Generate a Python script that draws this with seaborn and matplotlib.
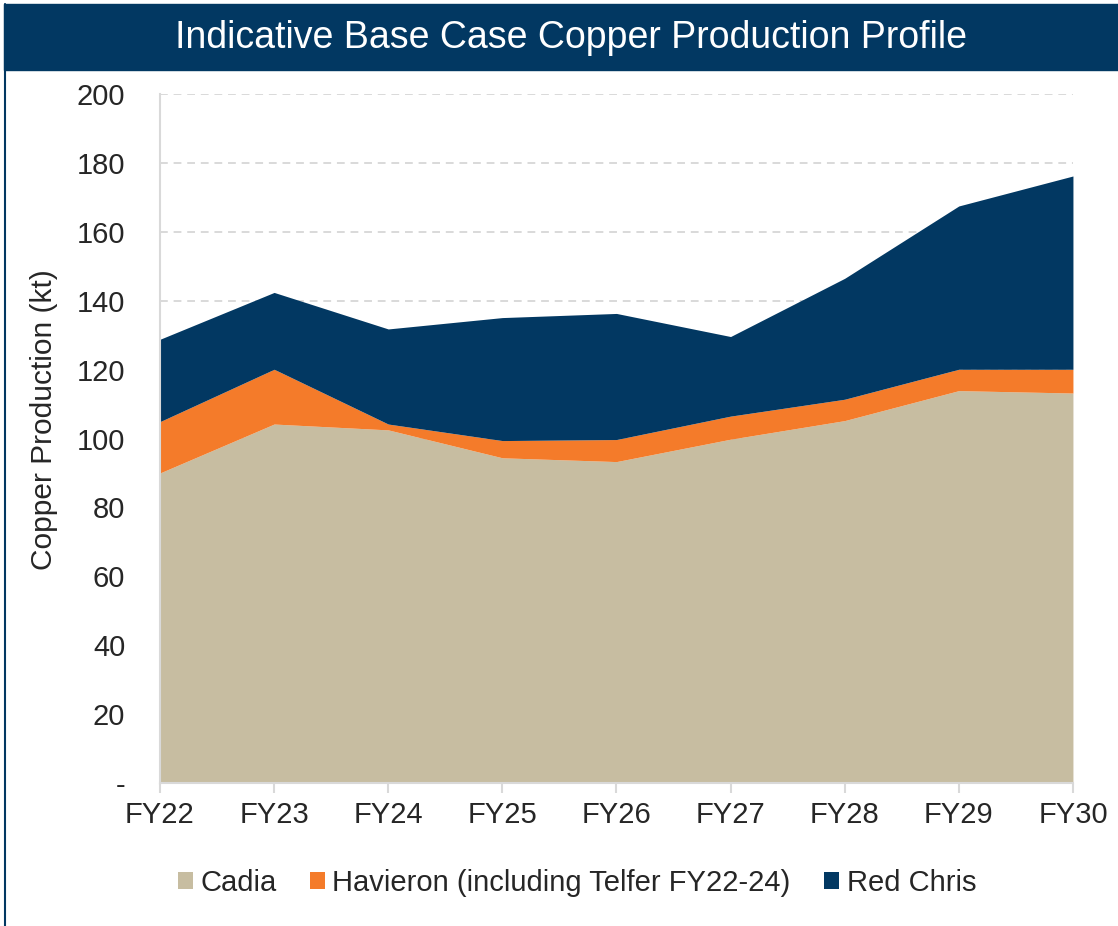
import matplotlib
matplotlib.use("Agg")
import matplotlib.pyplot as plt
from matplotlib.patches import Patch, Rectangle
from matplotlib.lines import Line2D
import numpy as np
import pandas as pd
import seaborn as sns

# data (kt)
years = ['FY22', 'FY23', 'FY24', 'FY25', 'FY26', 'FY27', 'FY28', 'FY29', 'FY30']
cadia = [90.0, 104.2, 102.5, 94.4, 93.3, 99.8, 105.2, 113.9, 113.2]
havieron = [14.9, 15.9, 1.7, 5.0, 6.4, 6.7, 6.2, 6.2, 6.9]
red_chris = [23.9, 22.3, 27.6, 35.7, 36.6, 23.1, 35.1, 47.4, 56.1]
series_names = ['Cadia', 'Havieron (including Telfer FY22-24)', 'Red Chris']
colors = ['#C7BDA1', '#F47B2A', '#023862']
navy = '#023862'

df = pd.DataFrame({'year': years, series_names[0]: cadia,
                   series_names[1]: havieron, series_names[2]: red_chris})

sns.set_theme(style='white')
plt.rcParams['font.family'] = ['Liberation Sans', 'DejaVu Sans']

fig = plt.figure(figsize=(11.18, 9.26), dpi=100)
ax = fig.add_axes([0.1431, 0.1544, 0.9597 - 0.1431, 0.8985 - 0.1544])

x = np.arange(len(years))
ax.stackplot(x, df[series_names[0]], df[series_names[1]], df[series_names[2]],
             colors=colors, linewidth=0, zorder=2)

ax.set_xlim(0, len(years) - 1)
ax.set_ylim(0, 200)
ax.set_yticks(range(0, 201, 20))
ax.set_yticklabels(['-'] + [str(v) for v in range(20, 201, 20)])
ax.set_xticks(x)
ax.set_xticklabels(years)
ax.yaxis.grid(True, linestyle=(0, (4, 3)), color='#d9d9d9', linewidth=1.4, zorder=0)
ax.xaxis.grid(False)
ax.set_axisbelow(True)

sns.despine(ax=ax, top=True, right=True)
for s in ['left', 'bottom']:
    ax.spines[s].set_color('#d9d9d9')
    ax.spines[s].set_linewidth(1.5)
    ax.spines[s].set_zorder(3)

ax.tick_params(axis='x', which='major', length=7, width=1.5, color='#d9d9d9',
               direction='out', bottom=True, labelsize=21, pad=6)
ax.tick_params(axis='y', length=0, labelsize=21, pad=25)
ax.set_ylabel('Copper Production (kt)', fontsize=21.5)
ax.yaxis.set_label_coords(-0.112, 0.527)

# title bar
fig.patches.append(Rectangle((4 / 1118, 1 - 70 / 926), 1.0, 66 / 926,
                             transform=fig.transFigure, color=navy, zorder=0))
fig.text(0.511, 1 - 38 / 926, 'Indicative Base Case Copper Production Profile',
         color='white', fontsize=27, ha='center', va='center')
fig.lines.append(Line2D([5 / 1118, 5 / 1118], [0, 1 - 4 / 926],
                        transform=fig.transFigure, color=navy, linewidth=1.5))

handles = [Patch(facecolor=c, edgecolor='none') for c in colors]
fig.legend(handles, series_names, loc='center', bbox_to_anchor=(0.516, 1 - 883 / 926),
           ncol=3, frameon=False, fontsize=21, handlelength=0.52, handleheight=0.52,
           handletextpad=0.25, columnspacing=1.15)

fig.savefig('out.png', dpi=100)
